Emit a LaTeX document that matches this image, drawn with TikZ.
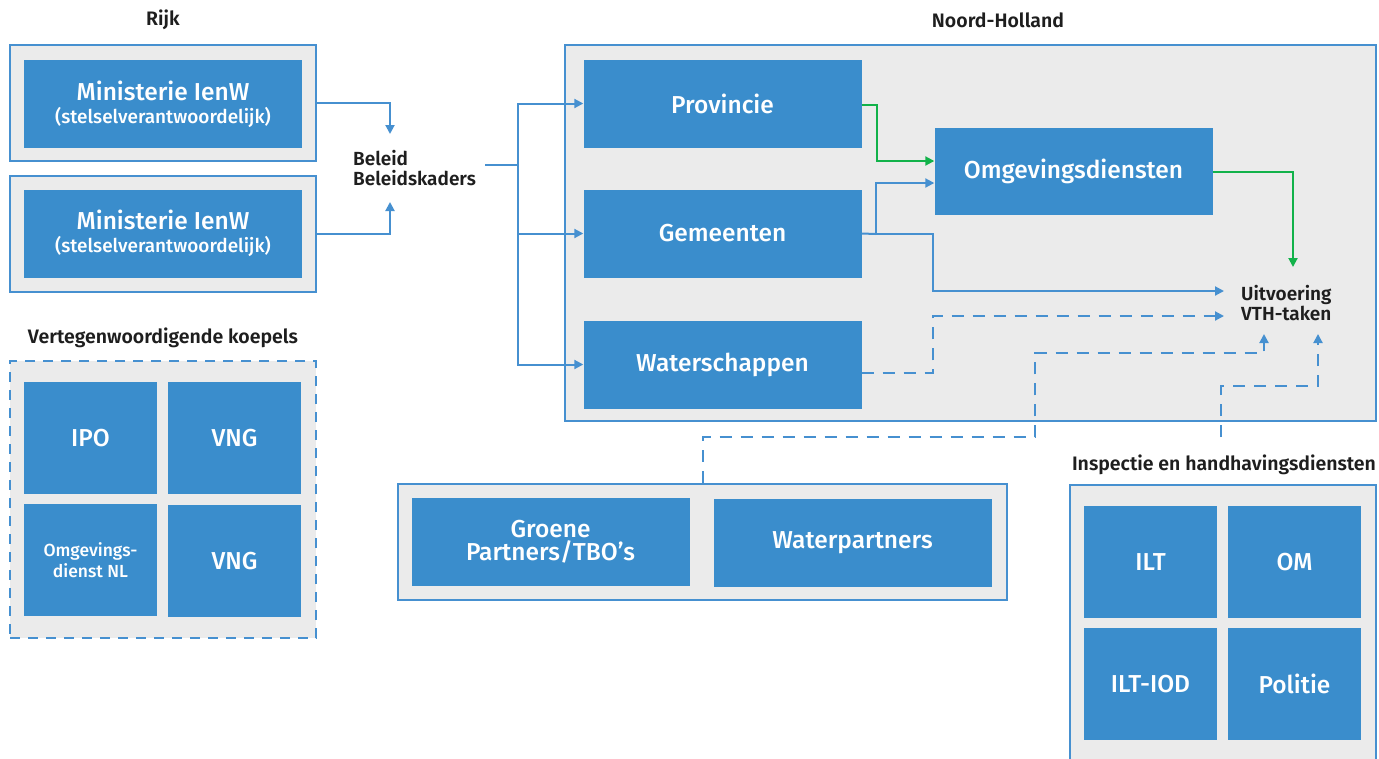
\documentclass[tikz,border=0pt]{standalone}
\usepackage{fontspec}
\setmainfont{Fira Sans}[UprightFont=* Medium, BoldFont=* SemiBold]
\usetikzlibrary{arrows.meta,calc}
\definecolor{boxblue}{HTML}{3A8DCC}
\definecolor{lineblue}{HTML}{4690D0}
\definecolor{panel}{HTML}{EBEBEB}
\definecolor{grn}{HTML}{12B24A}
\definecolor{ink}{HTML}{1E1E1E}
\begin{document}
\begin{tikzpicture}[x=1pt,y=-1pt,
  outer/.style={draw=lineblue,line width=2.2pt,fill=panel,inner sep=0pt},
  dashedouter/.style={draw=lineblue,line width=2.2pt,fill=panel,inner sep=0pt,dash pattern=on 10pt off 8pt},
  blk/.style={fill=boxblue,text=white,align=center,inner sep=0pt,font=\fontsize{24.5}{26}\selectfont},
  sq/.style={blk,minimum width=133pt,minimum height=112pt},
  wide/.style={blk,minimum width=278pt,minimum height=88pt},
  title/.style={text=ink,font=\bfseries\fontsize{19.5}{22}\selectfont,inner sep=0pt},
  lbl/.style={text=ink,font=\bfseries\fontsize{19}{20.5}\selectfont,inner sep=0pt,align=left},
  arr/.style={draw=lineblue,line width=2pt,-{Triangle[length=9pt,width=9pt]}},
  garr/.style={draw=grn,line width=2pt,-{Triangle[length=9pt,width=9pt]}},
  ln/.style={draw=lineblue,line width=2pt},
  dsh/.style={dash pattern=on 12pt off 9pt}
]
\useasboundingbox (0,0) rectangle (1379,758);
% titles
\node[title] (trijk) at (163,20) {Rijk};
\node[title] (tnh) at (998,20) {Noord-Holland};
\node[title] (tvk) at (163,338) {Vertegenwoordigende koepels};
\node[title] (tih) at (1224,465) {Inspectie en handhavingsdiensten};
% Rijk
\node[outer,minimum width=306pt,minimum height=116pt] (o1) at (163,103) {};
\node[wide] (m1) at (163,104) {Ministerie IenW\\[-3pt]{\fontsize{19}{21}\selectfont(stelselverantwoordelijk)}};
\node[outer,minimum width=306pt,minimum height=116pt] (o2) at (163,234) {};
\node[wide] (m2) at (163,233.5) {Ministerie IenW\\[-3pt]{\fontsize{19}{21}\selectfont(stelselverantwoordelijk)}};
% Beleid
\node[lbl,anchor=west] (bel) at (353,168) {Beleid\\Beleidskaders};
\coordinate (belN) at (390,134);
\coordinate (belS) at (390,202);
\draw[arr] (o1.east) -| (belN);
\draw[arr] (o2.east) -| (belS);
% Noord-Holland
\node[outer,minimum width=811pt,minimum height=376pt] (nh) at (970.5,233) {};
\node[wide] (prov) at (722.5,103.5) {Provincie};
\node[wide] (gem) at (722.5,233.5) {Gemeenten};
\node[wide] (wat) at (722.5,364.5) {Waterschappen};
\node[wide,minimum height=87pt] (omg) at (1073.5,171.5) {Omgevingsdiensten};
\node[lbl,anchor=west] (uitv) at (1241,303) {Uitvoering\\VTH-taken};
\coordinate (split) at (518,165);
\draw[ln] ($(split -| bel.east)+(9,0)$) -- (split);
\draw[arr] (split) |- (prov.west);
\draw[arr] (split) |- (gem.west);
\draw[arr] (split) |- (wat.west);
\draw[garr] ([yshift=-1.5pt]prov.east) -- ++(15,0) |- ([yshift=10.5pt]omg.west);
\coordinate (gj) at (876,234);
\draw[ln] (gem.east) -- (gj);
\draw[arr] (gj) |- ([yshift=-11.5pt]omg.west);
\draw[arr] (gj) -- (933,234) |- ([xshift=-17pt,yshift=12pt]uitv.west);
\coordinate (uvTop) at (1293,267);
\draw[garr] (omg.east) -| (uvTop);
\draw[arr,dsh] ([yshift=-8.5pt]wat.east) -- (933,373) |- ([xshift=-17pt,yshift=-13pt]uitv.west);
% Partners
\node[outer,minimum width=609pt,minimum height=116pt] (gpo) at (702.5,542) {};
\node[wide,font=\fontsize{24.5}{23}\selectfont] (gp) at (550.5,541.5) {Groene\\Partners/TBO’s};
\node[wide] (wp) at (852.5,542.5) {Waterpartners};
\coordinate (uvB1) at (1264,334);
\coordinate (uvB2) at (1318,334);
\draw[arr,dsh] (gpo.north) |- (1035,437) -- (1035,353) -| (uvB1);
\coordinate (ihTop) at (1221,437);
\draw[arr,dsh] (ihTop) -- (1221,386) -| (uvB2);
% Koepels
\node[dashedouter,minimum width=306pt,minimum height=277pt] (kp) at (163,499.5) {};
\node[sq] (ipo) at (90.5,438) {IPO};
\node[sq] (vng1) at (234.5,438) {VNG};
\node[sq,font=\fontsize{17.5}{21}\selectfont] (odnl) at (90.5,560) {Omgevings-\\dienst NL};
\node[sq] (vng2) at (234.5,561) {VNG};
% Inspectie
\node[outer,minimum width=306pt,minimum height=290pt] (ih) at (1223,630) {};
\node[sq] (ilt) at (1150.5,562) {ILT};
\node[sq] (om) at (1294.5,562) {OM};
\node[sq] (iltiod) at (1150.5,684) {ILT-IOD};
\node[sq] (pol) at (1294.5,684) {Politie};
\end{tikzpicture}
\end{document}
